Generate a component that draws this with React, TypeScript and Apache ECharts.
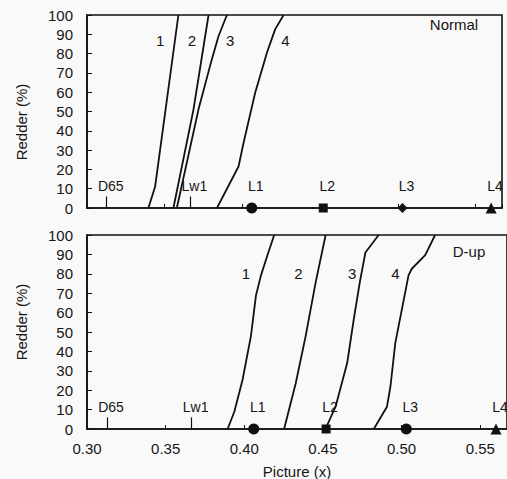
import React, { useEffect, useRef } from 'react';
import * as echarts from 'echarts';

// Reference illuminants on the x (chromaticity) axis
const refNames = ['D65', 'Lw1', 'L1', 'L2', 'L3', 'L4'];
const refX = [0.3127, 0.3665, 0.406, 0.452, 0.503, 0.56];
const tickOnlyRefs = ['D65', 'Lw1'];
const markerSymbolsTop = ['circle', 'rect', 'diamond', 'triangle'];
const markerSymbolsBottom = ['circle', 'rect', 'circle', 'triangle'];

const curveNames = ['1', '2', '3', '4'];

// Normal panel curves: [x, redder %]
const normal1 = [[0.3395, 0], [0.3438, 11], [0.3588, 100]];
const normal2 = [[0.3556, 0], [0.3685, 51], [0.3782, 100]];
const normal3 = [[0.3578, 0], [0.3717, 51], [0.3803, 77], [0.3846, 89], [0.39, 100]];
const normal4 = [[0.3836, 0], [0.3975, 21.5], [0.4007, 33.7], [0.4082, 59.7], [0.4158, 80.6], [0.4211, 92.7], [0.4265, 100]];
const normalTagX = [0.347, 0.3675, 0.3921, 0.4276];
const normalTagY = [87, 87, 87, 87];

// D-up panel curves
const dup1 = [[0.3894, 0], [0.3937, 9], [0.3989, 25.4], [0.4042, 47.9], [0.4074, 68.8], [0.4106, 79.2], [0.4147, 89.6], [0.419, 100]];
const dup2 = [[0.4253, 0], [0.4327, 23.6], [0.439, 47.9], [0.4454, 75.7], [0.4517, 100]];
const dup3 = [[0.4516, 0], [0.458, 11.5], [0.4654, 34], [0.4696, 56.6], [0.4735, 76], [0.477, 91], [0.4854, 100]];
const dup4 = [[0.4823, 0], [0.4907, 11.5], [0.4929, 21.9], [0.496, 44.4], [0.5002, 61.8], [0.5044, 79.2], [0.5065, 82.6], [0.515, 89.6], [0.5213, 100]];
const dupTagX = [0.4011, 0.4344, 0.4686, 0.496];
const dupTagY = [80, 80, 80, 80];

const xMin = 0.3;
const xMax = 0.567;
const xInterval = 0.05;
const yMin = 0;
const yMax = 100;
const yInterval = 10;

const FONT = 'Liberation Sans, Arial, Helvetica, sans-serif';
const INK = '#111111';
const TXT = '#161616';

function panelSeries(
  gridIndex: number,
  curves: number[][][],
  tagX: number[],
  tagY: number[],
  symbols: string[]
) {
  const series: any[] = [];
  curves.forEach((c, i) => {
    series.push({
      type: 'line',
      name: `c${gridIndex}-${curveNames[i]}`,
      xAxisIndex: gridIndex,
      yAxisIndex: gridIndex,
      data: c,
      symbol: 'none',
      smooth: false,
      clip: false,
      lineStyle: { color: INK, width: 1.8 },
      silent: true,
    });
  });
  // curve number tags
  series.push({
    type: 'scatter',
    xAxisIndex: gridIndex,
    yAxisIndex: gridIndex,
    symbolSize: 0,
    silent: true,
    itemStyle: { opacity: 1, color: INK },
    data: curveNames.map((n, i) => ({ value: [tagX[i], tagY[i]], name: n })),
    label: {
      show: true,
      position: 'inside',
      formatter: (p: any) => p.name,
      color: TXT,
      textBorderWidth: 0,
      fontSize: 15,
      fontFamily: FONT,
    },
  });
  // illuminant labels above the axis + tick marks
  series.push({
    type: 'scatter',
    xAxisIndex: gridIndex,
    yAxisIndex: gridIndex,
    symbolSize: 0,
    silent: true,
    clip: false,
    itemStyle: { opacity: 1, color: INK },
    data: refNames.map((n, i) => ({ value: [refX[i], 0], name: n })),
    label: {
      show: true,
      position: 'top',
      distance: 15,
      offset: [4, 0],
      formatter: (p: any) => p.name,
      color: TXT,
      textBorderWidth: 0,
      fontSize: 14,
      fontFamily: FONT,
    },
    markLine: {
      silent: true,
      symbol: ['none', 'none'],
      label: { show: false },
      lineStyle: { color: INK, width: 1.2, type: 'solid', opacity: 1 },
      data: refNames
        .map((n, i) => ({ n, x: refX[i] }))
        .filter((r) => tickOnlyRefs.includes(r.n))
        .map((r) => [{ coord: [r.x, 0] }, { coord: [r.x, 6] }]),
    },
  });
  // filled markers
  series.push({
    type: 'scatter',
    xAxisIndex: gridIndex,
    yAxisIndex: gridIndex,
    silent: true,
    clip: false,
    itemStyle: { color: INK, opacity: 1 },
    data: refNames
      .map((n, i) => ({ n, x: refX[i] }))
      .filter((r) => !tickOnlyRefs.includes(r.n))
      .map((r, k) => ({
        value: [r.x, 0],
        symbol: symbols[k],
        symbolSize: symbols[k] === 'rect' ? 9 : symbols[k] === 'triangle' ? 11 : symbols[k] === 'diamond' ? 10 : 11,
      })),
  });
  return series;
}

function xAxis(gridIndex: number, showLabels: boolean) {
  return {
    type: 'value',
    gridIndex,
    min: xMin,
    max: xMax,
    interval: xInterval,
    axisLine: { show: true, onZero: false, lineStyle: { color: INK, width: 1.6 } },
    axisTick: { show: true, inside: true, length: 4, lineStyle: { color: INK } },
    splitLine: { show: false },
    axisLabel: {
      show: showLabels,
      showMaxLabel: false,
      formatter: (v: number) => v.toFixed(2),
      color: TXT,
      fontSize: 15,
      fontFamily: FONT,
      margin: 12,
    },
  };
}

function yAxis(gridIndex: number) {
  return {
    type: 'value',
    gridIndex,
    min: yMin,
    max: yMax,
    interval: yInterval,
    axisLine: { show: true, lineStyle: { color: INK, width: 1.6 } },
    axisTick: { show: true, inside: true, length: 5, lineStyle: { color: INK } },
    splitLine: { show: false },
    axisLabel: {
      color: TXT,
      fontSize: 15,
      fontFamily: FONT,
      margin: 14,
    },
  };
}

export default function App() {
  const ref = useRef<HTMLDivElement>(null);

  useEffect(() => {
    if (!ref.current) return;
    const chart = echarts.init(ref.current, null, { renderer: 'svg' });
    const option: any = {
      animation: false,
      backgroundColor: '#f9f9f9',
      grid: [
        { left: 87, top: 15, width: 415, height: 193, show: true, borderColor: INK, borderWidth: 1.6, backgroundColor: 'transparent' },
        { left: 87, top: 235, width: 422, height: 194, show: true, borderColor: INK, borderWidth: 1.6, backgroundColor: 'transparent' },
      ],
      xAxis: [xAxis(0, false), xAxis(1, true)],
      yAxis: [yAxis(0), yAxis(1)],
      series: [
        ...panelSeries(0, [normal1, normal2, normal3, normal4], normalTagX, normalTagY, markerSymbolsTop),
        ...panelSeries(1, [dup1, dup2, dup3, dup4], dupTagX, dupTagY, markerSymbolsBottom),
      ],
      graphic: [
        {
          type: 'text',
          x: 21,
          y: 122,
          rotation: Math.PI / 2,
          style: { text: 'Redder (%)', fill: TXT, font: `15px ${FONT}`, textAlign: 'center', textVerticalAlign: 'middle' },
        },
        {
          type: 'text',
          x: 21,
          y: 322,
          rotation: Math.PI / 2,
          style: { text: 'Redder (%)', fill: TXT, font: `15px ${FONT}`, textAlign: 'center', textVerticalAlign: 'middle' },
        },
        {
          type: 'text',
          x: 297,
          y: 471,
          style: { text: 'Picture (x)', fill: TXT, font: `15px ${FONT}`, textAlign: 'center', textVerticalAlign: 'middle' },
        },
        {
          type: 'text',
          x: 454,
          y: 24,
          style: { text: 'Normal', fill: TXT, font: `15px ${FONT}`, textAlign: 'center', textVerticalAlign: 'middle' },
        },
        {
          type: 'text',
          x: 469,
          y: 251,
          style: { text: 'D-up', fill: TXT, font: `15px ${FONT}`, textAlign: 'center', textVerticalAlign: 'middle' },
        },
      ],
    };
    chart.setOption(option);
    return () => chart.dispose();
  }, []);

  return (
    <div
      ref={ref}
      style={{ position: 'fixed', left: 0, top: 0, width: 507, height: 479 }}
    />
  );
}
